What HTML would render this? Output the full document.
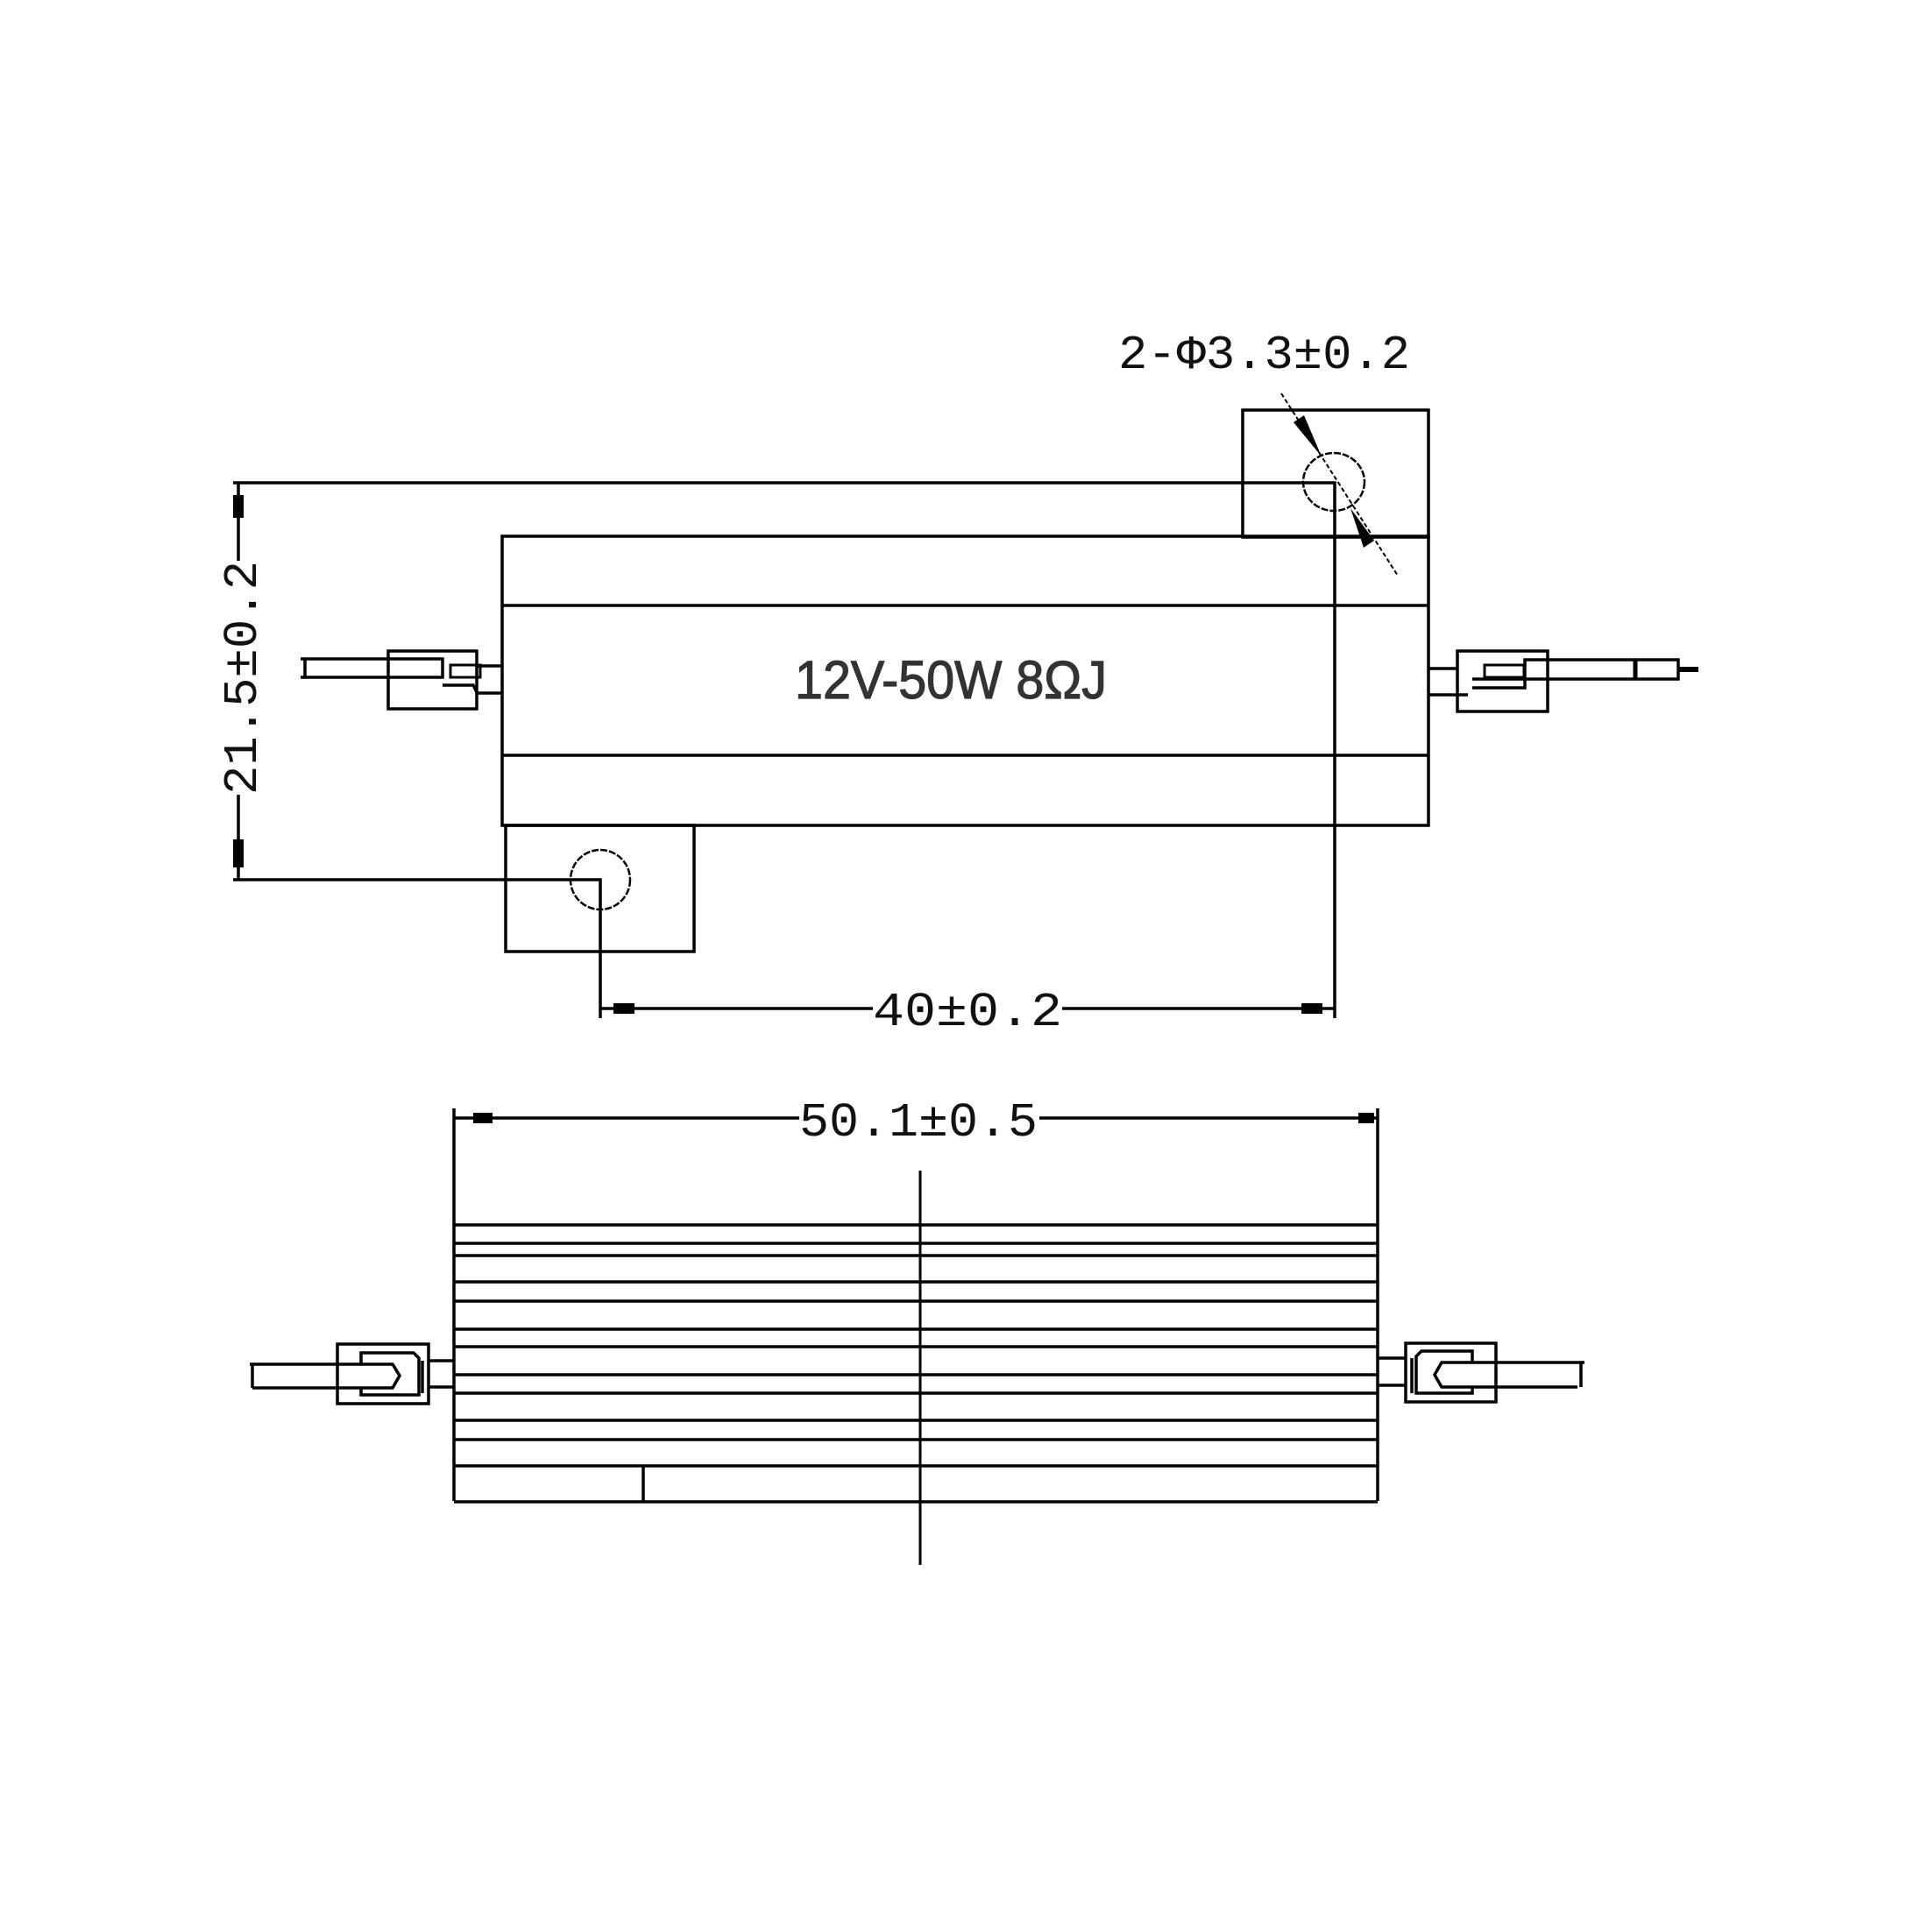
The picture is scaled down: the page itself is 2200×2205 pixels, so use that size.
<!DOCTYPE html>
<html><head><meta charset="utf-8"><style>html,body{margin:0;padding:0;background:#fff}</style></head>
<body>
<svg width="2200" height="2200" viewBox="0 0 2200 2200" xmlns="http://www.w3.org/2000/svg">
<rect width="2200" height="2200" fill="#fff"/>
<g fill="none" stroke="#000" stroke-width="3.5">
<!-- TOP VIEW -->
<rect x="1418" y="468" width="212" height="145"/>
<rect x="573" y="612" width="1057" height="330"/>
<line x1="573" y1="691" x2="1630" y2="691"/>
<line x1="573" y1="862" x2="1630" y2="862"/>
<rect x="577" y="942" width="215" height="144"/>
<ellipse cx="1522" cy="550" rx="35" ry="33" stroke-width="2.5" stroke-dasharray="8 2"/>
<ellipse cx="685" cy="1004" rx="34" ry="34" stroke-width="2.5" stroke-dasharray="8 2"/>
<!-- dims -->
<polyline points="266,551 1523,551 1523,1162"/>
<polyline points="266,1004 685,1004 685,1162"/>
<line x1="272" y1="551" x2="272" y2="640"/>
<line x1="272" y1="907" x2="272" y2="1004"/>
<line x1="685" y1="1151" x2="996" y2="1151"/>
<line x1="1212" y1="1151" x2="1523" y2="1151"/>
<line x1="1462" y1="449" x2="1595" y2="657" stroke-width="2" stroke-dasharray="5 3"/>
<!-- left connector top -->
<rect x="443" y="743" width="101" height="66"/>
<polyline points="343,752 505,752 505,773 343,773"/>
<line x1="348" y1="752" x2="348" y2="773"/>
<polyline points="505,782 540,782 544,790"/>
<rect x="514" y="759" width="34" height="14" stroke-width="3"/>
<line x1="544" y1="760" x2="573" y2="760"/>
<line x1="544" y1="791" x2="573" y2="791"/>
<!-- right connector top -->
<rect x="1663" y="743" width="103" height="69"/>
<line x1="1630" y1="763" x2="1663" y2="763"/>
<line x1="1630" y1="793" x2="1675" y2="793"/>
<rect x="1694" y="759" width="45" height="14" stroke-width="3"/>
<polyline points="1680,785 1740,785 1740,753 1915,753 1915,775 1680,775"/>
<line x1="1915" y1="764" x2="1938" y2="764" stroke-width="6"/>
<line x1="1866" y1="753" x2="1866" y2="775" stroke-width="5"/>
<!-- BOTTOM VIEW -->
<line x1="518" y1="1265" x2="518" y2="1713"/>
<line x1="1572" y1="1265" x2="1572" y2="1713"/>
<line x1="518" y1="1276" x2="912" y2="1276"/>
<line x1="1186" y1="1276" x2="1572" y2="1276"/>
<line x1="1050" y1="1336" x2="1050" y2="1786" stroke-width="3"/>
<g>
<line x1="518" y1="1398" x2="1572" y2="1398"/>
<line x1="518" y1="1419" x2="1572" y2="1419"/>
<line x1="518" y1="1433" x2="1572" y2="1433"/>
<line x1="518" y1="1463" x2="1572" y2="1463"/>
<line x1="518" y1="1485" x2="1572" y2="1485"/>
<line x1="518" y1="1517" x2="1572" y2="1517"/>
<line x1="518" y1="1537" x2="1572" y2="1537"/>
<line x1="518" y1="1569" x2="1572" y2="1569"/>
<line x1="518" y1="1590" x2="1572" y2="1590"/>
<line x1="518" y1="1621" x2="1572" y2="1621"/>
<line x1="518" y1="1643" x2="1572" y2="1643"/>
<line x1="518" y1="1673" x2="1572" y2="1673"/>
<line x1="518" y1="1714" x2="1572" y2="1714"/>
<line x1="734" y1="1673" x2="734" y2="1714"/>
</g>
<!-- left connector bottom -->
<rect x="385" y="1534" width="104" height="68"/>
<polyline points="412,1557 412,1544 472,1544 478,1550 478,1592 412,1592 412,1584"/>
<polyline points="285,1557 448,1557 456,1570 448,1584 288,1584"/>
<line x1="288" y1="1557" x2="288" y2="1584"/>
<line x1="482" y1="1553" x2="482" y2="1590"/>
<line x1="489" y1="1553" x2="518" y2="1553"/>
<line x1="489" y1="1583" x2="518" y2="1583"/>
<!-- right connector bottom -->
<rect x="1604" y="1533" width="103" height="67"/>
<polyline points="1680,1555 1680,1542 1622,1542 1616,1548 1616,1590 1680,1590 1680,1583"/>
<polyline points="1808,1555 1645,1555 1637,1569 1645,1583 1800,1583"/>
<line x1="1804" y1="1555" x2="1804" y2="1583"/>
<line x1="1611" y1="1550" x2="1611" y2="1590"/>
<line x1="1572" y1="1550" x2="1604" y2="1550"/>
<line x1="1572" y1="1581" x2="1604" y2="1581"/>
</g>
<!-- arrowheads -->
<g fill="#000">
<rect x="266" y="565" width="12" height="26"/>
<rect x="266" y="958" width="12" height="32"/>
<rect x="700" y="1145" width="24" height="12"/>
<rect x="1485" y="1145" width="24" height="12"/>
<rect x="540" y="1270" width="22" height="12"/>
<rect x="1550" y="1270" width="18" height="12"/>
<polygon points="1476,482 1488,474 1508,521"/>
<polygon points="1541,580 1568,617 1556,625"/>
</g>
<!-- text -->
<g font-family="'Liberation Mono','Noto Sans CJK SC',monospace" fill="#111" font-size="55">
<text x="1276" y="420" textLength="333" lengthAdjust="spacingAndGlyphs">2-Φ3.3±0.2</text>
<text x="996" y="1170" textLength="216" lengthAdjust="spacingAndGlyphs">40±0.2</text>
<text x="912" y="1296" textLength="272" lengthAdjust="spacingAndGlyphs">50.1±0.5</text>
<text transform="translate(292,907) rotate(-90)" x="0" y="0" textLength="267" lengthAdjust="spacingAndGlyphs">21.5±0.2</text>
</g>
<text x="907" y="797" font-family="'Liberation Sans',sans-serif" font-size="61" fill="#333" stroke="#333" stroke-width="1.2" textLength="356" lengthAdjust="spacingAndGlyphs">12V-50W 8ΩJ</text>
</svg>
</body></html>
